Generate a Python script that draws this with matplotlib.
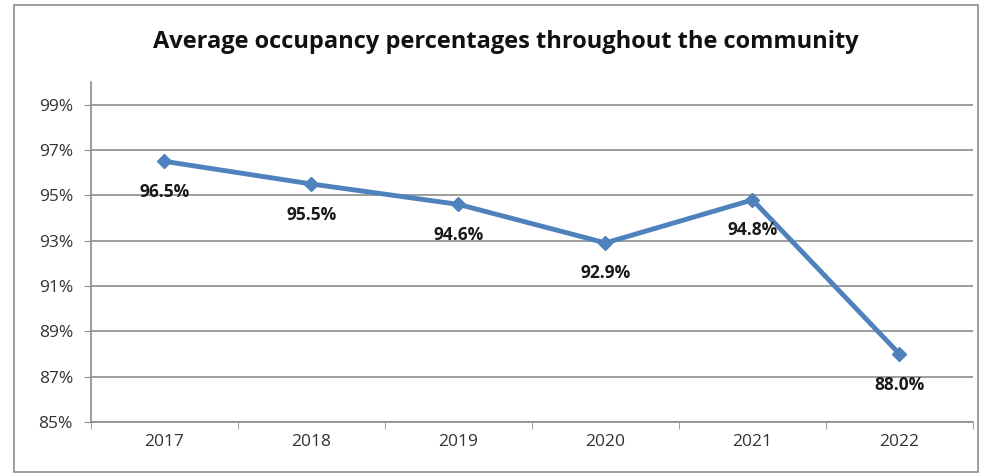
import matplotlib.pyplot as plt
from matplotlib.patches import Rectangle

# Datos del gráfico
years = ['2017', '2018', '2019', '2020', '2021', '2022']
occupancy = [96.5, 95.5, 94.6, 92.9, 94.8, 88.0]
y_ticks = [85, 87, 89, 91, 93, 95, 97, 99]

plt.rcParams['font.family'] = ['Open Sans', 'DejaVu Sans']

fig = plt.figure(figsize=(9.95, 4.74), dpi=100)
ax = fig.add_axes([91 / 995, 1 - 422 / 474, (973 - 91) / 995, (422 - 82) / 474])

# marco exterior del gráfico
fig.patches.append(Rectangle((14 / 995, 1 - 472 / 474), 964 / 995, 467 / 474,
                             transform=fig.transFigure, fill=False,
                             edgecolor='#8c8c8c', linewidth=1.2))

x = list(range(len(years)))
ax.plot(x, occupancy, color='#4f81bd', linewidth=3.5, marker='D',
        markersize=7.5, markerfacecolor='#4f81bd', zorder=3)

for xi, v in zip(x, occupancy):
    ax.annotate(f'{v:.1f}%', (xi, v), xytext=(0, -15.5), textcoords='offset points',
                ha='center', va='top', fontsize=12.5, fontweight='bold', color='#1a1a1a')

ax.set_xlim(-0.5, len(years) - 0.5)
ax.set_ylim(85, 100)
ax.set_yticks(y_ticks)
ax.set_yticklabels([f'{t}%' for t in y_ticks])
ax.set_xticks(x)
ax.set_xticklabels(years)
ax.set_xticks([i - 0.5 for i in range(len(years) + 1)], minor=True)
ax.tick_params(axis='x', which='major', length=0, pad=9)
ax.tick_params(axis='x', which='minor', length=5, direction='out', color='#8c8c8c')
ax.tick_params(axis='y', length=5, direction='out', color='#8c8c8c', pad=8)
ax.tick_params(labelsize=12.5, labelcolor='#333333')

ax.grid(axis='y', color='#8c8c8c', linewidth=1.2)
ax.set_axisbelow(True)
for s in ['top', 'right']:
    ax.spines[s].set_visible(False)
for s in ['left', 'bottom']:
    ax.spines[s].set_color('#8c8c8c')
    ax.spines[s].set_linewidth(1.2)

fig.text(506 / 995, 1 - 42 / 474, 'Average occupancy percentages throughout the community',
         ha='center', va='center', fontsize=17, fontweight='bold', color='#111111')

plt.savefig('out.png', dpi=100)
